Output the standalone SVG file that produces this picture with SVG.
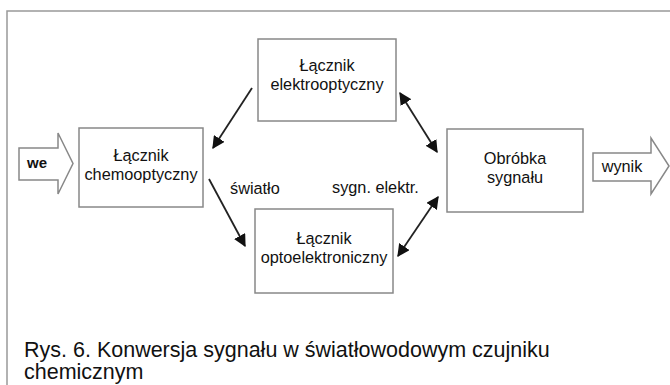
<svg xmlns="http://www.w3.org/2000/svg" width="670" height="385" viewBox="0 0 670 385">
<defs>
<style>
.box{fill:#fff;stroke:#888;stroke-width:1.5}
.frame{fill:none;stroke:#999;stroke-width:1.5}
.big{fill:#fff;stroke:#888;stroke-width:1.5}
.t{font-family:"Liberation Sans",Arial,sans-serif;font-size:16.3px;fill:#111;text-anchor:middle}
.l{font-family:"Liberation Sans",Arial,sans-serif;font-size:16.3px;fill:#111}
.cap{font-family:"Liberation Sans",Arial,sans-serif;font-size:21.5px;fill:#111}
.c{stroke:#222;stroke-width:1.8;fill:none}
</style>
<marker id="ah" viewBox="0 0 10 10" refX="9" refY="5" markerWidth="7" markerHeight="7" markerUnits="strokeWidth" orient="auto-start-reverse">
<path d="M0,0 L10,5 L0,10 z" fill="#111"/>
</marker>
</defs>
<rect width="670" height="385" fill="#fff"/>
<rect class="frame" x="7" y="11" width="700" height="420"/>
<g id="we">
<polygon class="big" points="19,148 58,148 58,133 73,163.5 58,194 58,180 19,180"/>
<text x="37" y="168" class="l" style="font-weight:bold;font-size:15px;text-anchor:middle">we</text>
</g>
<g id="chemooptyczny">
<rect class="box" x="79" y="128" width="124" height="79"/>
<text class="t" x="141" y="161">Łącznik</text>
<text class="t" x="141" y="180">chemooptyczny</text>
</g>
<g id="elektrooptyczny">
<rect class="box" x="258" y="39" width="138" height="82"/>
<text class="t" x="327" y="71">Łącznik</text>
<text class="t" x="327" y="90">elektrooptyczny</text>
</g>
<g id="optoelektroniczny">
<rect class="box" x="255" y="209" width="138" height="84"/>
<text class="t" x="324" y="244">Łącznik</text>
<text class="t" x="324" y="263">optoelektroniczny</text>
</g>
<g id="obrobka">
<rect class="box" x="447" y="129" width="136" height="83"/>
<text class="t" x="515" y="164">Obróbka</text>
<text class="t" x="515" y="183">sygnału</text>
</g>
<g id="wynik">
<polygon class="big" points="593,153 651,153 651,138 669,166 651,194 651,181 593,181"/>
<text class="t" x="622" y="172">wynik</text>
</g>
<g id="connectors">
<line class="c" x1="252" y1="88" x2="213" y2="148" marker-end="url(#ah)"/>
<line class="c" x1="209" y1="179" x2="245" y2="246" marker-end="url(#ah)"/>
<line class="c" x1="400" y1="93" x2="437" y2="152" marker-start="url(#ah)" marker-end="url(#ah)"/>
<line class="c" x1="438" y1="197" x2="398" y2="256" marker-start="url(#ah)" marker-end="url(#ah)"/>
<text class="l" x="230" y="194">światło</text>
<text class="l" x="332" y="193">sygn. elektr.</text>
</g>
<text class="cap" x="24" y="357">Rys. 6. Konwersja sygnału w światłowodowym czujniku</text>
<text class="cap" x="24" y="379">chemicznym</text>
</svg>
